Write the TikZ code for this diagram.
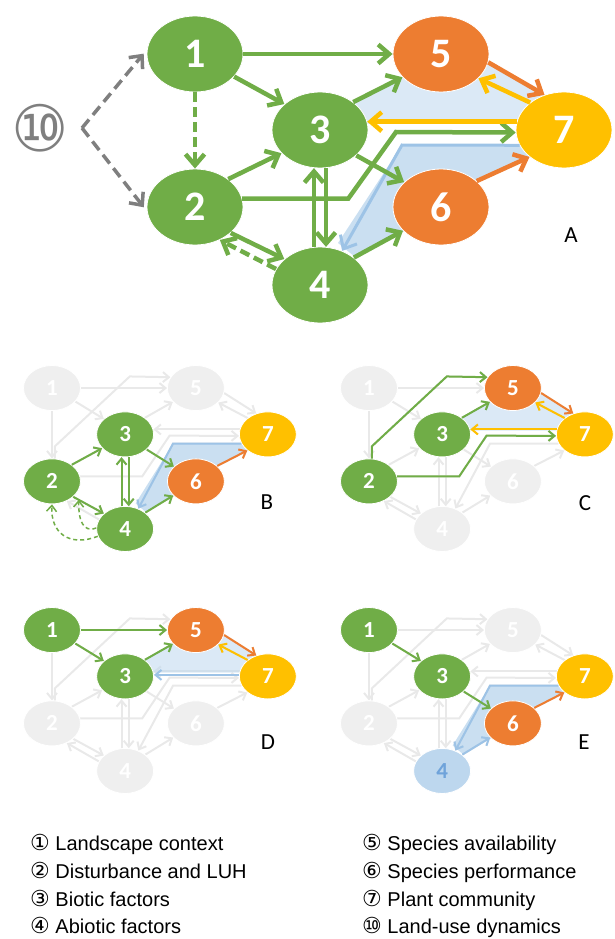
\documentclass[tikz,border=0pt]{standalone}
\usepackage{fontspec}
\setmainfont{Liberation Sans}
\newfontfamily\numfont{Carlito}
\newfontfamily\symfont{DejaVu Sans}
\usetikzlibrary{arrows.meta,shapes.geometric}
\pgfdeclarelayer{bg}
\pgfsetlayers{bg,main}
\definecolor{cgreen}{HTML}{70AD47}
\definecolor{corange}{HTML}{ED7D31}
\definecolor{cyellow}{HTML}{FFC000}
\definecolor{cblue}{HTML}{9DC3E6}
\definecolor{cshade}{HTML}{BDD7EE}
\definecolor{cbluetext}{HTML}{6FA3DA}
\definecolor{cghost}{HTML}{EFEFEF}
\definecolor{cghostline}{HTML}{E9E9E9}
\definecolor{cgray}{HTML}{7F7F7F}
\tikzset{
  nd/.style={ellipse, draw=white, line width=0.8pt, inner sep=0pt, text=white, ndsize},
  ngreen/.style={nd, fill=cgreen},
  norange/.style={nd, fill=corange},
  nyellow/.style={nd, fill=cyellow},
  nghost/.style={nd, fill=cghost},
  nblue/.style={nd, fill=cshade, text=cbluetext},
  ar/.style={arsize, line join=miter},
  egreen/.style={ar, draw=cgreen},
  eorange/.style={ar, draw=corange},
  eyellow/.style={ar, draw=cyellow},
  eblue/.style={ar, draw=cblue, bluewidth},
  eghost/.style={ar, draw=cghostline},
  egray/.style={draw=cgray, line width=3.5pt, dash pattern=on 11pt off 6pt, -{Straight Barb[length=10pt,width=18pt]}},
  panelA/.style={
    ndsize/.style={minimum width=96pt, minimum height=76pt, font=\numfont\bfseries\fontsize{42}{42}\selectfont},
    arsize/.style={line width=4.5pt, -{Straight Barb[length=11pt,width=19pt]}},
    bluewidth/.style={line width=3pt}},
  subpanel/.style={xscale=0.585, yscale=0.61,
    ndsize/.style={minimum width=57pt, minimum height=45pt, font=\numfont\bfseries\fontsize{23}{23}\selectfont},
    arsize/.style={line width=2pt, -{Straight Barb[length=6pt,width=10pt]}},
    bluewidth/.style={line width=2pt}},
  leg/.style={anchor=base west, inner sep=0pt, font=\fontsize{20}{24}\selectfont},
  plabel/.style={font=\numfont\fontsize{23}{23}\selectfont, text=black}
}
\newcommand\circnum[1]{{\symfont\fontsize{22}{24}\selectfont #1}}
% nodes of one panel (model coordinates of panel A)
\newcommand\placenodes[8]{%
  \node[#2] (#1n1) at (195,54) {1};
  \node[#3] (#1n2) at (195,207) {2};
  \node[#4] (#1n3) at (320,130) {3};
  \node[#5] (#1n4) at (320,285) {4};
  \node[#6] (#1n5) at (441,54) {5};
  \node[#7] (#1n6) at (441,207) {6};
  \node[#8] (#1n7) at (564,130) {7};
}
% connectors
\newcommand\eOneFive[2]{\draw[#2] (#1n1.east) -- (#1n5.west);}
\newcommand\eOneThree[2]{\draw[#2] (#1n1.-30) -- (#1n3.144);}
\newcommand\eOneTwo[2]{\draw[#2] (#1n1.south) -- (#1n2.north);}
\newcommand\eTwoThree[2]{\draw[#2] (#1n2.40) -- (#1n3.211);}
\newcommand\eTwoFive[2]{\draw[#2] (#1n2.83) -- ++(0,-20) -- (328,35) -- (#1n5.157);}
\newcommand\eTwoSeven[2]{\draw[#2] (#1n2.10) -- ++(106,0) -- (396,132) -- (#1n7.183);}
\newcommand\eTwoFour[2]{\draw[#2] (#1n2.-36) -- (#1n4.144);}
\newcommand\eFourTwo[2]{\draw[#2] (#1n4.160) -- (#1n2.-53);}
\newcommand\eThreeFive[2]{\draw[#2] (#1n3.40) -- (#1n5.211);}
\newcommand\eThreeSix[2]{\draw[#2] (#1n3.-35) -- (#1n6.146);}
\newcommand\eThreeFour[2]{\draw[#2] (#1n3.-81) -- (#1n4.81);}
\newcommand\eFourThree[2]{\draw[#2] (#1n4.99) -- (#1n3.-99);}
\newcommand\eFourSix[2]{\draw[#2] (#1n4.39) -- (#1n6.212);}
\newcommand\eFiveSeven[2]{\draw[#2] (#1n5.-10) -- (#1n7.119);}
\newcommand\eSevenFive[2]{\draw[#2] (#1n7.141) -- (#1n5.-33);}
\newcommand\eSevenThree[2]{\draw[#2] (#1n7.170) -- (#1n3.10);}
\newcommand\eSixSeven[2]{\draw[#2] (#1n6.36) -- (#1n7.218);}
\newcommand\eSevenFour[2]{\draw[#2] (#1n7.199) -- (402,145) -- (#1n4.57);}
\newcommand\ghostnet[1]{%
  \begin{pgfonlayer}{bg}
  \eOneFive{#1}{eghost}\eOneThree{#1}{eghost}\eOneTwo{#1}{eghost}
  \eTwoThree{#1}{eghost}\eTwoFive{#1}{eghost}\eTwoSeven{#1}{eghost}
  \eTwoFour{#1}{eghost}\eFourTwo{#1}{eghost}\eThreeFive{#1}{eghost}
  \eThreeSix{#1}{eghost}\eThreeFour{#1}{eghost}\eFourThree{#1}{eghost}
  \eFourSix{#1}{eghost}\eFiveSeven{#1}{eghost}\eSevenFive{#1}{eghost}
  \eSevenThree{#1}{eghost}\eSixSeven{#1}{eghost}\eSevenFour{#1}{eghost}
  \end{pgfonlayer}}
\newcommand\triShade{\begin{pgfonlayer}{bg}\fill[cshade, opacity=0.55] (350,104) -- (403,77) -- (441,75) -- (488,62) -- (545,95) -- (560,124) -- (355,124) -- cycle;\end{pgfonlayer}}
\newcommand\bandShade{\begin{pgfonlayer}{bg}\fill[cshade, opacity=0.8] (548,145) -- (402,145) -- (338,243) -- (355,257) -- (405,231) -- (441,200) -- (476,181) -- (530,157) -- cycle;\end{pgfonlayer}}

\begin{document}
\begin{tikzpicture}[x=1pt, y=-1pt]
\useasboundingbox (0,0) rectangle (614,939);

% ---------------- panel A ----------------
\begin{scope}[panelA]
  \placenodes{A}{ngreen}{ngreen}{ngreen}{ngreen}{norange}{norange}{nyellow}
  \triShade
  \bandShade
  \eSevenFour{A}{eblue}
  \eOneFive{A}{egreen}
  \eOneThree{A}{egreen}
  \eOneTwo{A}{egreen, dash pattern=on 10pt off 5pt}
  \eTwoThree{A}{egreen}
  \eTwoSeven{A}{egreen}
  \eTwoFour{A}{egreen}
  \eFourTwo{A}{egreen, dash pattern=on 10pt off 5pt}
  \eThreeFive{A}{egreen}
  \eThreeSix{A}{egreen}
  \eThreeFour{A}{egreen}
  \eFourThree{A}{egreen}
  \eFourSix{A}{egreen}
  \eFiveSeven{A}{eorange}
  \eSevenFive{A}{eyellow}
  \eSevenThree{A}{eyellow}
  \eSixSeven{A}{eorange}
\end{scope}
\node[text=cgray, inner sep=0pt, font=\symfont\fontsize{64}{64}\selectfont] (ten) at (40,128) {⑩};
\coordinate (v10) at (82,128);
\draw[egray, shorten >=5pt] (v10) -- (An1.175);
\draw[egray, shorten >=5pt] (v10) -- (An2.185);
\node[plabel] (labA) at (571,235) {A};

% ---------------- panel B ----------------
\begin{scope}[shift={(-62.1,355.1)}, subpanel]
  \placenodes{B}{nghost}{ngreen}{ngreen}{ngreen}{nghost}{norange}{nyellow}
  \ghostnet{B}
  \bandShade
  \eSevenFour{B}{eblue}
  \eTwoThree{B}{egreen}
  \eTwoFour{B}{egreen}
  \path (Bn2.-36) -- (Bn4.144) coordinate[pos=0.18] (b24);
  \draw[egreen, line width=1.5pt, dash pattern=on 4pt off 3pt] (Bn4.195) .. controls (225,315) and (192,292) .. (Bn2.270);
  \draw[egreen, line width=1.5pt, dash pattern=on 4pt off 3pt] (Bn4.178) .. controls (248,292) and (240,270) .. (b24);
  \eThreeFour{B}{egreen}
  \eFourThree{B}{egreen}
  \eThreeSix{B}{egreen}
  \eFourSix{B}{egreen}
  \eSixSeven{B}{eorange}
\end{scope}
\node[plabel] (labB) at (267,502) {B};

% ---------------- panel C ----------------
\begin{scope}[shift={(254.9,355.1)}, subpanel]
  \placenodes{C}{nghost}{ngreen}{ngreen}{nghost}{norange}{nghost}{nyellow}
  \ghostnet{C}
  \triShade
  \eTwoFive{C}{egreen}
  \eTwoSeven{C}{egreen}
  \eThreeFive{C}{egreen}
  \eSevenThree{C}{eyellow}
  \eFiveSeven{C}{eorange}
  \eSevenFive{C}{eyellow}
\end{scope}
\node[plabel] (labC) at (585,503) {C};

% ---------------- panel D ----------------
\begin{scope}[shift={(-62.1,597.1)}, subpanel]
  \placenodes{D}{ngreen}{nghost}{ngreen}{nghost}{norange}{nghost}{nyellow}
  \ghostnet{D}
  \triShade
  \eOneFive{D}{egreen}
  \eOneThree{D}{egreen}
  \eThreeFive{D}{egreen}
  \eFiveSeven{D}{eorange}
  \eSevenFive{D}{eyellow}
  \draw[eblue] (Dn7.177) -- (Dn3.3);
\end{scope}
\node[plabel] (labD) at (268,742) {D};

% ---------------- panel E ----------------
\begin{scope}[shift={(254.9,597.1)}, subpanel]
  \placenodes{E}{ngreen}{nghost}{ngreen}{nblue}{nghost}{norange}{nyellow}
  \ghostnet{E}
  \bandShade
  \eSevenFour{E}{eblue}
  \eFourSix{E}{eblue}
  \eOneThree{E}{egreen}
  \eThreeSix{E}{egreen}
  \eSixSeven{E}{eorange}
\end{scope}
\node[plabel] (labE) at (584,742) {E};

% ---------------- legend ----------------
\node[leg] (lg1) at (30,850) {\circnum{①} Landscape context};
\node[leg] (lg2) at (30,878) {\circnum{②} Disturbance and LUH};
\node[leg] (lg3) at (30,906) {\circnum{③} Biotic factors};
\node[leg] (lg4) at (30,933) {\circnum{④} Abiotic factors};
\node[leg] (lg5) at (362,850) {\circnum{⑤} Species availability};
\node[leg] (lg6) at (362,878) {\circnum{⑥} Species performance};
\node[leg] (lg7) at (362,906) {\circnum{⑦} Plant community};
\node[leg] (lg10) at (362,933) {\circnum{⑩} Land-use dynamics};
\end{tikzpicture}
\end{document}
